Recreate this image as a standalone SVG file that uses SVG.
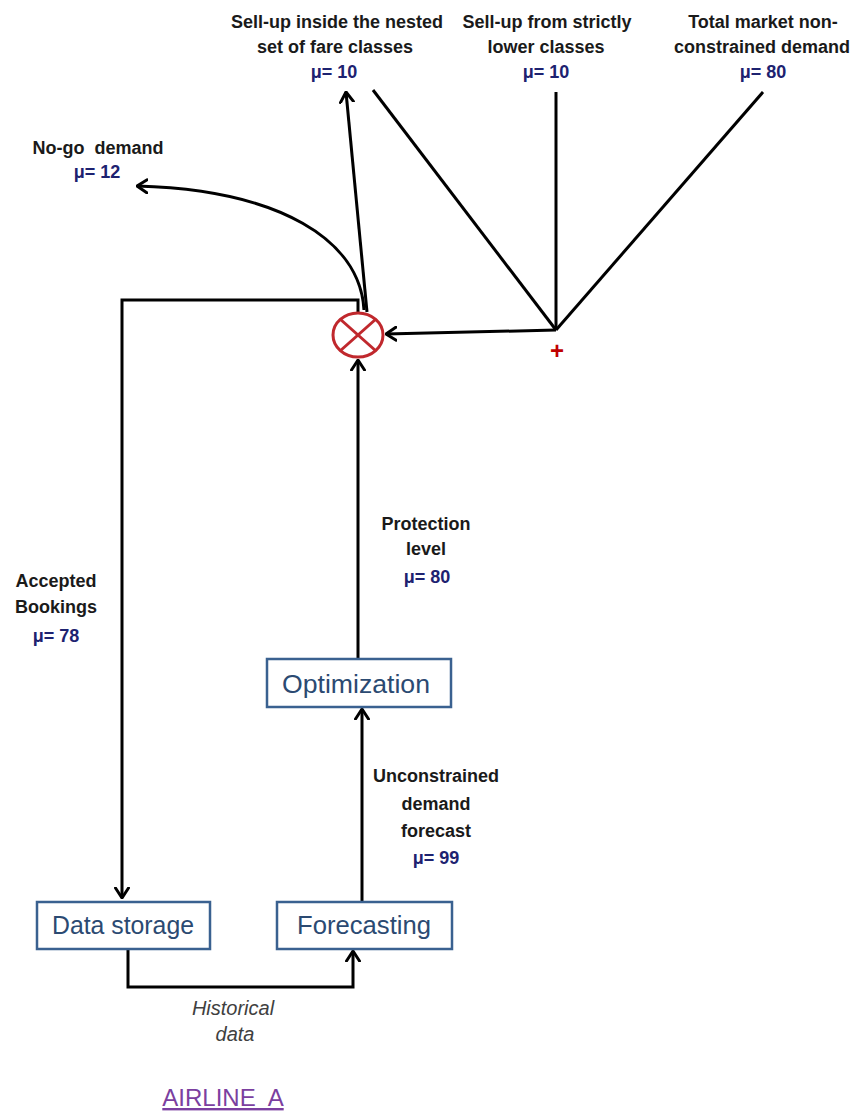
<svg xmlns="http://www.w3.org/2000/svg" width="858" height="1114" viewBox="0 0 858 1114">
  <style>
    .lbl { font-family: "Liberation Sans", Arial, sans-serif; font-size: 18px; font-weight: bold; fill: #1a1a1a; text-anchor: middle; }
    .mu { fill: #1d2270; }
    .box { fill: #ffffff; stroke: #3a6190; stroke-width: 2.5; }
    .boxtxt { font-family: "Liberation Sans", Arial, sans-serif; font-size: 25px; fill: #2b4a72; text-anchor: middle; }
    .wire { fill: none; stroke: #000000; stroke-width: 3; stroke-linejoin: miter; }
    .note { font-family: "Liberation Sans", Arial, sans-serif; font-size: 20px; font-style: italic; fill: #404040; text-anchor: middle; }
  </style>
  <defs>
    <marker id="arrow" viewBox="0 0 12 16" refX="11" refY="8" markerWidth="12" markerHeight="16" markerUnits="userSpaceOnUse" orient="auto">
      <path d="M1,1.5 L11,8 L1,14.5" fill="none" stroke="#000000" stroke-width="3" stroke-linecap="round" stroke-linejoin="round"/>
    </marker>
  </defs>

  <rect width="858" height="1114" fill="#ffffff"/>

  <!-- connectors -->
  <g id="connectors">
    <!-- three demand sources meeting at the summing point -->
    <line class="wire" x1="373" y1="90" x2="556" y2="330"/>
    <line class="wire" x1="556" y1="92" x2="556" y2="330"/>
    <line class="wire" x1="763" y1="92" x2="556" y2="330"/>
    <line class="wire" x1="556" y1="330" x2="386" y2="334" marker-end="url(#arrow)"/>
    <!-- outflows from the multiplier -->
    <line class="wire" x1="367" y1="312" x2="346" y2="92" marker-end="url(#arrow)"/>
    <path class="wire" d="M364,310 C360,240 280,190 137,186" marker-end="url(#arrow)"/>
    <!-- accepted bookings loop -->
    <polyline class="wire" points="358,312 358,300 122,300 122,898" marker-end="url(#arrow)"/>
    <!-- protection level -->
    <line class="wire" x1="358" y1="659" x2="358" y2="360" marker-end="url(#arrow)"/>
    <!-- demand forecast -->
    <line class="wire" x1="362" y1="902" x2="362" y2="709" marker-end="url(#arrow)"/>
    <!-- historical data -->
    <polyline class="wire" points="128,949 128,987 353,987 353,951" marker-end="url(#arrow)"/>
  </g>

  <!-- multiplier node -->
  <g id="multiplier">
    <ellipse cx="358" cy="335" rx="25" ry="22" fill="#ffffff" stroke="#c0282d" stroke-width="3"/>
    <line x1="340" y1="319" x2="376" y2="351" stroke="#c0282d" stroke-width="3"/>
    <line x1="376" y1="319" x2="340" y2="351" stroke="#c0282d" stroke-width="3"/>
  </g>

  <g id="sum-sign">
    <text x="557" y="359" font-family="Liberation Sans, Arial, sans-serif" font-size="24" font-weight="bold" fill="#c00000" text-anchor="middle">+</text>
  </g>

  <!-- source labels -->
  <g id="sellup-nested">
    <text class="lbl" x="337" y="28">Sell-up inside the nested</text>
    <text class="lbl" x="335" y="53">set of fare classes</text>
    <text class="lbl mu" x="334" y="78">μ= 10</text>
  </g>
  <g id="sellup-lower">
    <text class="lbl" x="547" y="28">Sell-up from strictly</text>
    <text class="lbl" x="546" y="53">lower classes</text>
    <text class="lbl mu" x="546" y="78">μ= 10</text>
  </g>
  <g id="total-market">
    <text class="lbl" x="763" y="28">Total market non-</text>
    <text class="lbl" x="762" y="53">constrained demand</text>
    <text class="lbl mu" x="763" y="78">μ= 80</text>
  </g>
  <g id="no-go">
    <text class="lbl" x="98" y="154">No-go&#160; demand</text>
    <text class="lbl mu" x="97" y="178">μ= 12</text>
  </g>

  <!-- flow labels -->
  <g id="protection-label">
    <text class="lbl" x="426" y="530">Protection</text>
    <text class="lbl" x="426" y="555">level</text>
    <text class="lbl mu" x="427" y="583">μ= 80</text>
  </g>
  <g id="bookings-label">
    <text class="lbl" x="56" y="587">Accepted</text>
    <text class="lbl" x="56" y="613">Bookings</text>
    <text class="lbl mu" x="56" y="642">μ= 78</text>
  </g>
  <g id="forecast-label">
    <text class="lbl" x="436" y="782">Unconstrained</text>
    <text class="lbl" x="436" y="810">demand</text>
    <text class="lbl" x="436" y="837">forecast</text>
    <text class="lbl mu" x="436" y="864">μ= 99</text>
  </g>
  <g id="historical-label">
    <text class="note" x="233" y="1015">Historical</text>
    <text class="note" x="235" y="1041">data</text>
  </g>

  <!-- process boxes -->
  <g id="optimization">
    <rect class="box" x="267" y="659" width="184" height="48"/>
    <text class="boxtxt" x="356" y="693" textLength="148" lengthAdjust="spacingAndGlyphs">Optimization</text>
  </g>
  <g id="data-storage">
    <rect class="box" x="37" y="902" width="173" height="47"/>
    <text class="boxtxt" x="123" y="934" textLength="142" lengthAdjust="spacingAndGlyphs">Data storage</text>
  </g>
  <g id="forecasting">
    <rect class="box" x="277" y="902" width="175" height="47"/>
    <text class="boxtxt" x="364" y="934" textLength="134" lengthAdjust="spacingAndGlyphs">Forecasting</text>
  </g>

  <!-- caption -->
  <g id="caption">
    <text x="223" y="1106" font-family="Liberation Sans, Arial, sans-serif" font-size="24" fill="#7b3fa0" text-anchor="middle" text-decoration="underline">AIRLINE&#160; A</text>
  </g>
</svg>
